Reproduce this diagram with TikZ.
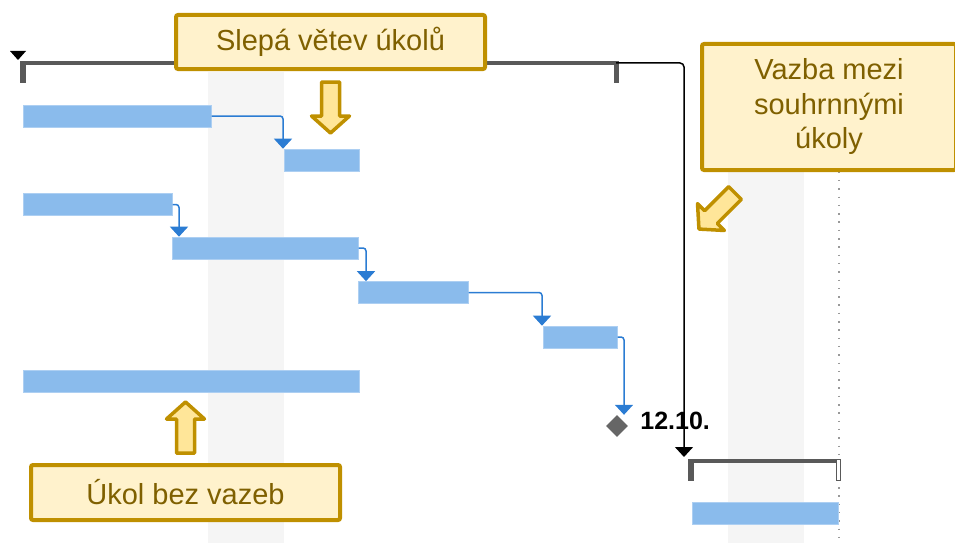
\documentclass[tikz,border=0pt]{standalone}
\usepackage{fontspec}
\setmainfont{Liberation Sans}
\usetikzlibrary{positioning,shapes.geometric,arrows.meta}

\definecolor{taskblue}{RGB}{138,187,236}
\definecolor{linkblue}{RGB}{43,124,211}
\definecolor{sumgray}{RGB}{89,89,89}
\definecolor{milegray}{RGB}{102,102,102}
\definecolor{offgray}{RGB}{245,245,245}
\definecolor{notegold}{RGB}{191,144,0}
\definecolor{notefill}{RGB}{255,242,204}
\definecolor{notetext}{RGB}{127,96,0}
\definecolor{pointfill}{RGB}{255,230,153}

\tikzset{
  task/.style={fill=taskblue, draw=taskblue!70!white, line width=0.6pt,
    anchor=west, minimum height=22pt, inner sep=0pt},
  link/.style={linkblue, line width=1.5pt, rounded corners=3pt,
    -{Triangle[width=18pt,length=10pt]}},
  sumlink/.style={black, line width=1.5pt, rounded corners=4pt,
    -{Triangle[width=18pt,length=10pt]}},
  sumbar/.style={sumgray, line width=3.5pt},
  note/.style={draw=notegold, line width=4pt, fill=notefill, text=notetext,
    rounded corners=2pt, align=center, inner sep=0pt,
    font=\fontsize{29}{34.5}\selectfont},
  pointer/.style={draw=notegold, line width=3.5pt, fill=pointfill, line join=round},
}

% block arrow: base point, direction angle
\newcommand{\pointer}[2]{%
  \begin{scope}[shift={#1}, x=1pt, y=1pt, rotate=#2]
    \draw[pointer] (0,-9) -- (34,-9) -- (34,-19) -- (51,0) -- (34,19) -- (34,9) -- (0,9) -- cycle;
  \end{scope}}

\begin{document}
\begin{tikzpicture}[x=1pt,y=-1pt]
    \useasboundingbox (0,0) rectangle (955,543);
    \clip (0,0) rectangle (955,543);

    % Non-working days
    \fill[offgray] (208,72) rectangle (284,543);
    \fill[offgray] (728,72) rectangle (804,543);

    % Status date
    \draw[gray!80, line width=1.5pt, dash pattern=on 1.5pt off 6.8pt] (839,72) -- (839,543);

    % Summary tasks
    \coordinate (p1s) at (23,63);
    \coordinate (p1e) at (616,63);
    \coordinate (p2s) at (691,461);
    \coordinate (p2e) at (838,461);

    \draw[sumbar] (p1s) -- (p1e);
    \fill[sumgray] ([xshift=-3pt,yshift=1.75pt]p1s) rectangle ([xshift=3pt,yshift=-20pt]p1s);
    \fill[sumgray] ([xshift=-2.5pt,yshift=1.75pt]p1e) rectangle ([xshift=2.5pt,yshift=-20pt]p1e);
    \fill[black] ([xshift=-13pt,yshift=12pt]p1s) -- ++(16,0) -- ++(-8,9) -- cycle;

    \draw[sumbar] (p2s) -- (p2e);
    \fill[sumgray] ([xshift=-3pt,yshift=1.75pt]p2s) rectangle ([xshift=3pt,yshift=-20pt]p2s);
    \draw[sumgray, line width=1pt, fill=white] ([xshift=-2pt,yshift=1.75pt]p2e) rectangle ([xshift=2.5pt,yshift=-19pt]p2e);

    \draw[sumlink] (p1e) -| ([xshift=-7pt,yshift=4pt]p2s);

    % Tasks
    \node[task, minimum width=188pt] (A) at (23,116) {};
    \node[task, minimum width=75pt]  (B) at (284,160) {};
    \node[task, minimum width=149pt] (C) at (23,204.5) {};
    \node[task, minimum width=186pt] (D) at (172,248) {};
    \node[task, minimum width=110pt] (E) at (358,292.5) {};
    \node[task, minimum width=74pt]  (F) at (543,337) {};
    \node[task, minimum width=336pt] (G) at (23,381) {};
    \node[task, minimum width=146pt] (H) at (692,513.5) {};

    % Milestone
    \node[diamond, fill=milegray, minimum width=22pt, minimum height=22pt, inner sep=0pt] (mile) at (617,426) {};
    \node[right=12pt of mile, yshift=5pt, inner sep=0pt, font=\bfseries\fontsize{25}{30}\selectfont] (date) {12.10.};

    % Links
    \draw[link] (A.east) -| ([xshift=-1pt]B.north west);
    \draw[link] (C.east) -| ([xshift=7pt]D.north west);
    \draw[link] (D.east) -| ([xshift=8pt]E.north west);
    \draw[link] (E.east) -| ([xshift=-1pt]F.north west);
    \draw[link] (F.east) -| ([xshift=7pt]mile.north);

    % Notes
    \node[note, minimum width=309pt, minimum height=54pt] (dead) at (330.5,42) {Slepá větev úkolů};
    \node[note, minimum width=254pt, minimum height=126pt] (summ) at (829,107) {Vazba mezi\\souhrnnými\\úkoly};
    \node[note, minimum width=309pt, minimum height=55pt] (free) at (185.5,492.5) {Úkol bez vazeb};

    \pointer{([yshift=-11pt]dead.south)}{-90}
    \pointer{([xshift=35pt,yshift=-21pt]summ.south west)}{225}
    \pointer{([yshift=10pt]free.north)}{90}

\end{tikzpicture}
\end{document}
